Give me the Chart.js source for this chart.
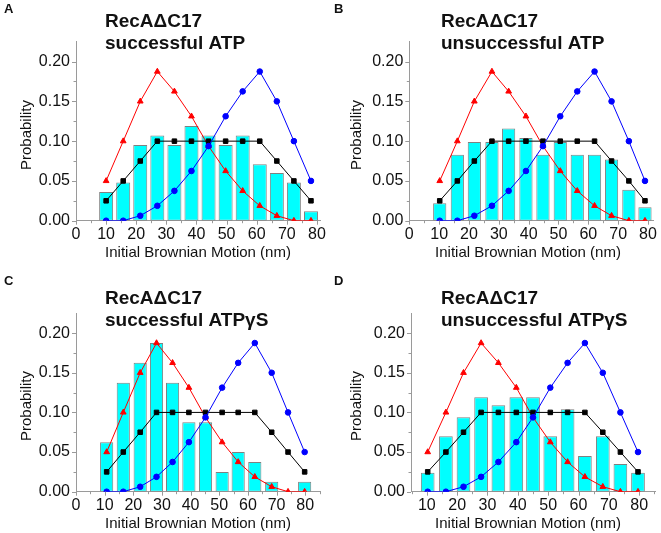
<!DOCTYPE html>
<html>
<head>
<meta charset="utf-8">
<script src="https://cdn.jsdelivr.net/npm/chart.js@4.4.1/dist/chart.umd.min.js"></script>
<style>
  body { margin: 0; background: #fff; width: 661px; height: 533px; position: relative; overflow: hidden; }
  canvas { position: absolute; }
</style>
</head>
<body>
<canvas id="pA" width="330" height="266" style="left:0;top:0"></canvas>
<canvas id="pB" width="331" height="266" style="left:330px;top:0"></canvas>
<canvas id="pC" width="330" height="267" style="left:0;top:266px"></canvas>
<canvas id="pD" width="331" height="267" style="left:330px;top:266px"></canvas>
<script>
// bin centres (nm)
const xA = [10, 15.67, 21.33, 27, 32.67, 38.33, 44, 49.67, 55.33, 61, 66.67, 72.33, 78];
const xB = [10.2, 16.1, 21.8, 27.7, 33.3, 39.1, 44.8, 50.6, 56.3, 62.1, 67.8, 73.6, 79.0];
const xC = [10.7, 16.5, 22.4, 28.1, 33.7, 39.4, 45.2, 51.0, 56.6, 62.4, 68.3, 74.0, 79.8];
const xD = [10.3, 16.3, 22.1, 27.9, 33.6, 39.5, 45.0, 50.7, 56.4, 62.1, 68.0, 73.8, 79.6];

// measured histograms
const barsA = [0.036, 0.048, 0.095, 0.107, 0.095, 0.119, 0.107, 0.095, 0.107, 0.071, 0.060, 0.048, 0.012];
const barsB = [0.022, 0.083, 0.099, 0.099, 0.116, 0.104, 0.083, 0.099, 0.083, 0.083, 0.077, 0.039, 0.017];
const barsC = [0.0625, 0.1375, 0.1625, 0.1875, 0.1375, 0.0875, 0.0875, 0.025, 0.05, 0.0375, 0.0125, 0, 0.0125];
const barsD = [0.024, 0.070, 0.094, 0.119, 0.109, 0.119, 0.119, 0.070, 0.104, 0.045, 0.070, 0.035, 0.024];

// model curves (same in every panel)
const redModel = [0.05, 0.1, 0.15, 0.1875, 0.1625, 0.13125, 0.09375, 0.0625, 0.0375, 0.01875, 0.00625, 0, 0];
const blackModel = [0.025, 0.05, 0.075, 0.1, 0.1, 0.1, 0.1, 0.1, 0.1, 0.1, 0.075, 0.05, 0.025];
const blueModel = [0, 0, 0.00625, 0.01875, 0.0375, 0.0625, 0.09375, 0.13125, 0.1625, 0.1875, 0.15, 0.1, 0.05];

const xTicksFull = [0, 10, 20, 30, 40, 50, 60, 70, 80];
const xTicksShort = [10, 20, 30, 40, 50, 60, 70, 80];
const yTicks = [0, 0.05, 0.1, 0.15, 0.2];

const panels = [
  { id: "pA", letter: "A", sub: "successful ATP", x: xA, bars: barsA, xTicks: xTicksFull,
    xMin: 0, xMax: 81, box: { l: 76, t: 41.7, r: 321.7, b: 220.7 }, titleX: 105, titleY: 21.5, letterY: 9, xTitleY: 253, yTitleY: 135 },
  { id: "pB", letter: "B", sub: "unsuccessful ATP", x: xB, bars: barsB, xTicks: xTicksFull,
    xMin: 0, xMax: 81.9, box: { l: 79.3, t: 41.7, r: 325, b: 220.7 }, titleX: 111, titleY: 21.5, letterY: 9, xTitleY: 253, yTitleY: 135 },
  { id: "pC", letter: "C", sub: "successful ATPγS", x: xC, bars: barsC, xTicks: xTicksFull,
    xMin: 0, xMax: 85.4, box: { l: 76, t: 47.3, r: 320.7, b: 225.7 }, titleX: 105, titleY: 33, letterY: 15.5, xTitleY: 258, yTitleY: 140 },
  { id: "pD", letter: "D", sub: "unsuccessful ATPγS", x: xD, bars: barsD, xTicks: xTicksShort,
    xMin: 4.8, xMax: 85.2, box: { l: 81, t: 47.3, r: 325, b: 225.7 }, titleX: 111, titleY: 33, letterY: 15.5, xTitleY: 258, yTitleY: 140 },
];

const axisGrey = "#9a9a9a";
const fontFam = '"Liberation Sans", Arial, sans-serif';

const decor = {
  id: "decor",
  afterDraw(chart, args, o) {
    const { ctx, chartArea: a, scales } = chart;
    const x = scales.x, y = scales.y;
    ctx.save();
    ctx.strokeStyle = axisGrey;
    ctx.lineWidth = 1;
    ctx.beginPath();
    for (let v = 0; v <= o.xMax; v += 5) {
      if (v < o.xMin) continue;
      const px = Math.round(x.getPixelForValue(v)) + 0.5;
      const len = v % 10 === 0 ? 4 : 2.5;
      ctx.moveTo(px, a.bottom);
      ctx.lineTo(px, a.bottom + len);
    }
    for (let v = 0; v <= 0.2001; v += 0.025) {
      const py = Math.round(y.getPixelForValue(v)) + 0.5;
      const len = Math.round(v * 1000) % 50 === 0 ? 4 : 2.5;
      ctx.moveTo(a.left, py);
      ctx.lineTo(a.left - len, py);
    }
    ctx.stroke();

    ctx.fillStyle = "#111";
    ctx.textBaseline = "middle";
    ctx.textAlign = "left";
    ctx.font = "bold 13px " + fontFam;
    ctx.fillText(o.letter, 4, o.letterY);
    ctx.font = "bold 19px " + fontFam;
    ctx.fillText("RecAΔC17", o.titleX, o.titleY);
    ctx.fillText(o.sub, o.titleX, o.titleY + 22);

    ctx.font = "15px " + fontFam;
    ctx.textAlign = "center";
    ctx.fillText("Initial Brownian Motion (nm)", 198, o.xTitleY);
    ctx.translate(27, o.yTitleY);
    ctx.rotate(-Math.PI / 2);
    ctx.fillText("Probability", 0, 0);
    ctx.restore();
  },
};

function pts(xs, ys) {
  return xs.map((x, i) => ({ x: x, y: ys[i] }));
}

panels.forEach((p) => {
  const cv = document.getElementById(p.id);
  const W = cv.width, H = cv.height;
  new Chart(cv, {
    type: "bar",
    data: {
      datasets: [
        {
          type: "line", data: pts(p.x, blueModel), order: 1,
          borderColor: "#0000ff", backgroundColor: "#0000ff", borderWidth: 1,
          pointStyle: "circle", pointRadius: 2.8, pointBorderWidth: 1,
        },
        {
          type: "line", data: pts(p.x, blackModel), order: 2,
          borderColor: "#000", backgroundColor: "#000", borderWidth: 1,
          pointStyle: "rect", pointRadius: 3.2, pointBorderWidth: 1,
        },
        {
          type: "line", data: pts(p.x, redModel), order: 3,
          borderColor: "#ff0000", backgroundColor: "#ff0000", borderWidth: 1,
          pointStyle: "triangle", pointRadius: 3.3, pointBorderWidth: 1,
        },
        {
          type: "bar", data: pts(p.x, p.bars), order: 4,
          backgroundColor: "#00ffff", borderColor: "#808080", borderWidth: 1,
          borderSkipped: false, barPercentage: 0.82, categoryPercentage: 1,
        },
      ],
    },
    options: {
      responsive: false,
      animation: false,
      events: [],
      layout: { padding: { left: 0, top: p.box.t, right: W - p.box.r, bottom: 0 } },
      plugins: {
        legend: { display: false },
        tooltip: { enabled: false },
        decor: { letter: p.letter, sub: p.sub, titleX: p.titleX, titleY: p.titleY, letterY: p.letterY,
                 xTitleY: p.xTitleY, yTitleY: p.yTitleY, xMin: p.xMin, xMax: p.xMax },
      },
      scales: {
        x: {
          type: "linear", min: p.xMin, max: p.xMax, offset: false,
          grid: { display: false, drawTicks: false },
          border: { color: axisGrey, width: 1 },
          afterBuildTicks: (s) => { s.ticks = p.xTicks.map((v) => ({ value: v })); },
          afterFit: (s) => { s.height = H - p.box.b; },
          ticks: { padding: 4, color: "#111", font: { family: fontFam, size: 16 }, maxRotation: 0, autoSkip: false },
        },
        y: {
          min: 0, max: 0.225,
          grid: { display: false, drawTicks: false },
          border: { color: axisGrey, width: 1 },
          afterBuildTicks: (s) => { s.ticks = yTicks.map((v) => ({ value: v })); },
          afterFit: (s) => { s.width = p.box.l; },
          ticks: { padding: 6, color: "#111", font: { family: fontFam, size: 16 },
                   callback: (v) => v.toFixed(2) },
        },
      },
    },
    plugins: [decor],
  });
});
</script>
</body>
</html>
